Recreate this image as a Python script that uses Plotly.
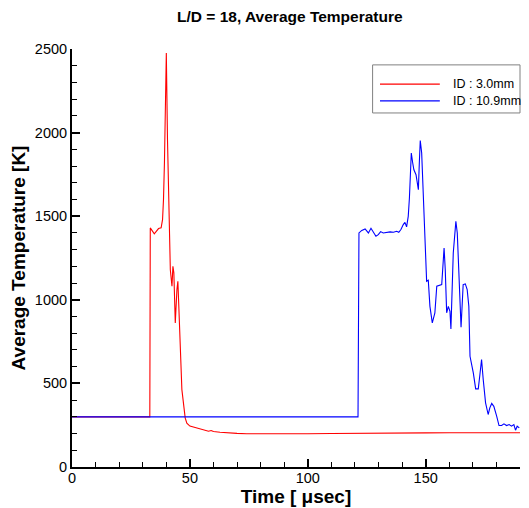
import plotly.graph_objects as go

# ID : 3.0mm  (time [usec], temperature [K])
t_small = [0, 33.0, 33.2, 34.9, 36.7, 37.8, 38.4, 38.8, 39.2, 39.5, 40.0, 40.5, 41.1,
           41.7, 42.4, 42.8, 43.2, 43.8, 44.5, 44.9, 45.3, 45.9, 46.6, 48.0, 48.7,
           50, 52, 54.4, 56, 57.9, 59, 60, 62.8, 66, 70, 74, 80, 90, 100, 110, 120,
           130, 140, 150, 160, 170, 180, 190]
temp_small = [300, 300, 1430, 1394, 1426, 1430, 1479, 1599, 1818, 2057, 2476, 1958, 1519,
              1180, 1081, 1200, 1161, 862, 1061, 1111, 961, 662, 463, 294, 262,
              245, 236, 228, 222, 214, 218, 212, 208, 204, 201, 199, 198, 198, 199, 200, 202,
              203, 203, 204, 205, 205, 205, 205]

# ID : 10.9mm
t_large = [0, 121.3, 121.7, 122.9, 124.3, 125.7, 126.8, 127.8, 128.9, 129.9, 130.9, 132.0,
           133.5, 134.9, 136.3, 137.7, 138.6, 139.5, 140.5, 141.2, 141.9, 142.6, 143.1,
           143.5, 143.9, 144.5, 145.0, 145.9, 146.9, 147.3, 147.7, 148.3, 149.0, 149.7,
           150.4, 151.1, 151.8, 152.8, 153.9, 154.7, 156.8, 157.8, 158.3, 158.9, 159.6,
           160.3, 160.7, 161.7, 162.8, 163.4, 164.2, 165.0, 165.9, 166.8, 167.6, 168.3,
           168.8, 170.2, 171.2, 172.3, 173.0, 173.7, 174.4, 175.4, 176.5, 177.2, 178.0,
           178.9, 180.1, 181.1, 182.2, 183.2, 184.3, 185.4, 186.4, 187.4, 188.1, 188.8, 189.7]
temp_large = [300, 300, 1400, 1415, 1424, 1400, 1428, 1404, 1380, 1390, 1408, 1400,
              1404, 1406, 1404, 1410, 1404, 1420, 1450, 1463, 1436, 1499, 1609,
              1759, 1878, 1818, 1778, 1748, 1659, 1818, 1953, 1878, 1579, 1320,
              1111, 1117, 961, 862, 922, 1081, 1091, 1310, 1181, 922, 961,
              931, 826, 1280, 1469, 1400, 1140, 836, 1091, 1095, 1061, 961,
              662, 563, 467, 467, 553, 643, 523, 384, 314, 354, 380,
              363, 304, 248, 248, 258, 248, 254, 244, 254, 220, 244, 234]

series_names = ["ID : 3.0mm", "ID : 10.9mm"]
series_colors = ["#ff0000", "#0000ff"]

x_ticks = [0, 50, 100, 150]
y_ticks = [0, 500, 1000, 1500, 2000, 2500]

font_family = "Arial, 'Liberation Sans', sans-serif"

fig = go.Figure()
fig.add_trace(
    go.Scatter(
        x=t_small,
        y=temp_small,
        mode="lines",
        name=series_names[0],
        line=dict(color=series_colors[0], width=1.1),
        showlegend=False,
    )
)
fig.add_trace(
    go.Scatter(
        x=t_large,
        y=temp_large,
        mode="lines",
        name=series_names[1],
        line=dict(color=series_colors[1], width=1.1),
        showlegend=False,
    )
)

axis_common = dict(
    showline=True,
    linecolor="black",
    linewidth=2,
    showgrid=False,
    zeroline=False,
    ticks="inside",
    ticklen=8,
    tickwidth=2,
    tickcolor="black",
    tickfont=dict(size=14.5, color="black"),
    automargin=False,
)

# the page puts the figure 8px in from the top-left corner, so the
# figure is 8px smaller than the window and the margins allow for it
fig.update_layout(
    width=521,
    height=500,
    plot_bgcolor="white",
    paper_bgcolor="white",
    font=dict(family=font_family, color="black"),
    title=dict(
        text="<b>L/D = 18, Average Temperature</b>",
        font=dict(size=15.5),
        x=0.541,
        xanchor="center",
        y=0.982,
        yanchor="middle",
        automargin=False,
    ),
    margin=dict(l=64, r=9, t=41, b=41),
    xaxis=dict(
        **axis_common,
        range=[0, 190],
        tickvals=x_ticks,
        ticklabelstandoff=-3,
        minor=dict(dtick=10, ticks="inside", ticklen=5, tickwidth=1, tickcolor="black"),
        title=dict(text="<b>Time [ μsec]</b>", font=dict(size=19), standoff=0),
    ),
    yaxis=dict(
        **axis_common,
        range=[0, 2500],
        tickvals=y_ticks,
        minor=dict(dtick=100, ticks="inside", ticklen=5, tickwidth=1, tickcolor="black"),
        title=dict(text="<b>Average Temperature [K]</b>", font=dict(size=19), standoff=14),
    ),
    showlegend=False,
)

# legend box drawn by hand, like the Tecplot legend
fig.add_shape(
    type="rect", xref="paper", yref="paper",
    x0=0.671, x1=1.0, y0=0.847, y1=0.962,
    line=dict(color="#808080", width=1), fillcolor="white", layer="above",
)
legend_rows = [0.916, 0.876]
for name, color, yy in zip(series_names, series_colors, legend_rows):
    fig.add_shape(
        type="line", xref="paper", yref="paper",
        x0=0.6875, x1=0.821, y0=yy, y1=yy,
        line=dict(color=color, width=1.1), layer="above",
    )
    fig.add_annotation(
        text=name, xref="paper", yref="paper", x=0.845, y=yy,
        xanchor="left", yanchor="middle", showarrow=False,
        font=dict(size=12.5, color="black"),
    )

fig.write_html("out.html")
